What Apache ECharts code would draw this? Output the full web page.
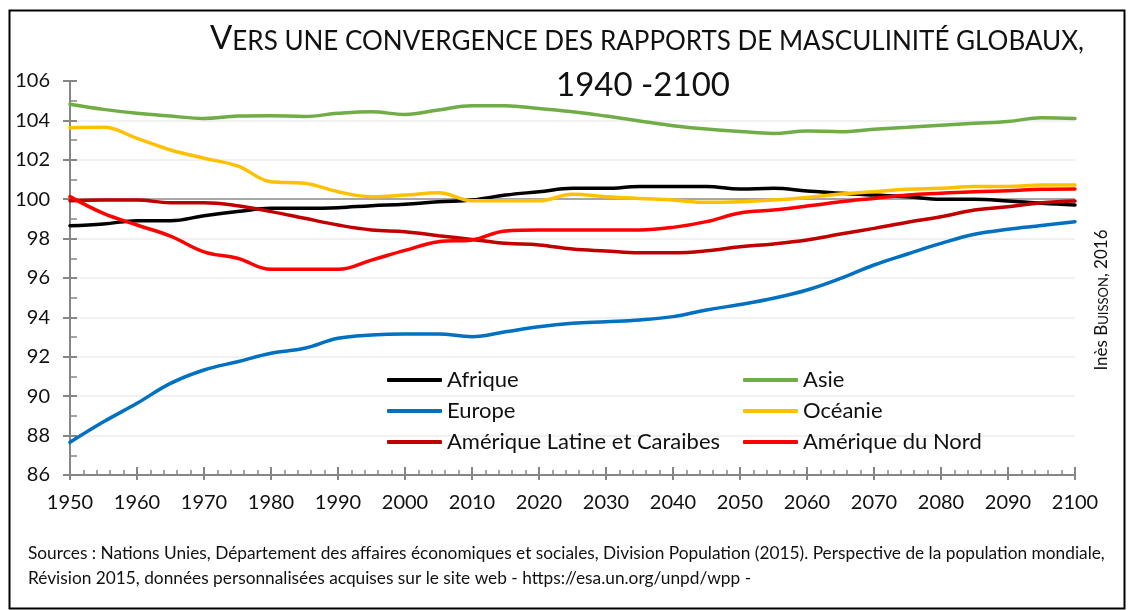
<!DOCTYPE html>
<html lang="fr">
<head>
<meta charset="utf-8">
<script src="https://cdn.jsdelivr.net/npm/echarts@6/dist/echarts.min.js"></script>
</head>
<body style="margin:0; background:#fff">
<div id="container" style="width:1130px; height:610px"></div>
<script>
// rapports de masculinité (hommes pour 100 femmes), tous les 5 ans
var years = [1950, 1955, 1960, 1965, 1970, 1975, 1980, 1985, 1990, 1995, 2000, 2005, 2010, 2015, 2020,
  2025, 2030, 2035, 2040, 2045, 2050, 2055, 2060, 2065, 2070, 2075, 2080, 2085, 2090, 2095, 2100];
var afrique = [98.65, 98.74, 98.91, 98.91, 99.16, 99.37, 99.54, 99.54, 99.57, 99.67, 99.74, 99.87, 99.96, 100.21, 100.38,
  100.55, 100.55, 100.64, 100.64, 100.64, 100.52, 100.55, 100.42, 100.3, 100.21, 100.13, 100.0, 100.0, 99.91, 99.79, 99.71];
var asie = [104.82, 104.56, 104.36, 104.22, 104.1, 104.22, 104.24, 104.2, 104.36, 104.44, 104.3, 104.53, 104.75, 104.75, 104.6,
  104.44, 104.22, 103.97, 103.73, 103.56, 103.44, 103.34, 103.46, 103.43, 103.55, 103.65, 103.75, 103.85, 103.94, 104.14, 104.1];
var europe = [87.66, 88.7, 89.64, 90.65, 91.33, 91.75, 92.18, 92.43, 92.94, 93.11, 93.16, 93.16, 93.02, 93.27, 93.53,
  93.7, 93.78, 93.87, 94.04, 94.38, 94.65, 94.97, 95.39, 95.98, 96.66, 97.22, 97.76, 98.22, 98.47, 98.66, 98.86];
var oceanie = [103.63, 103.65, 103.09, 102.5, 102.08, 101.69, 100.89, 100.81, 100.38, 100.13, 100.21, 100.33, 99.92, 99.92, 99.92,
  100.25, 100.13, 100.04, 99.96, 99.84, 99.87, 99.96, 100.09, 100.26, 100.38, 100.5, 100.55, 100.64, 100.64, 100.72, 100.72];
var ameriqueLatine = [99.92, 99.96, 99.96, 99.82, 99.82, 99.67, 99.37, 99.03, 98.69, 98.44, 98.35, 98.15, 97.96, 97.76, 97.68,
  97.47, 97.37, 97.28, 97.28, 97.38, 97.59, 97.73, 97.93, 98.23, 98.52, 98.83, 99.11, 99.45, 99.62, 99.82, 99.91];
var ameriqueNord = [100.13, 99.28, 98.69, 98.13, 97.33, 97.0, 96.44, 96.45, 96.44, 96.91, 97.4, 97.84, 97.93, 98.39, 98.44,
  98.44, 98.44, 98.44, 98.57, 98.86, 99.3, 99.45, 99.65, 99.87, 100.04, 100.21, 100.3, 100.38, 100.43, 100.5, 100.52];

var names = ['Afrique', 'Asie', 'Europe', 'Océanie', 'Amérique Latine et Caraibes', 'Amérique du Nord'];
var values = [afrique, asie, europe, oceanie, ameriqueLatine, ameriqueNord];
var colors = ['#000000', '#70ad47', '#0070c0', '#ffc000', '#c00000', '#ff0000'];

var FONT = 'Lato, "Open Sans", sans-serif';
var AXIS_GREY = '#868686';

var myChart = echarts.init(document.getElementById('container'), null, { renderer: 'canvas' });

var series = names.map(function (name, k) {
  var s = {
    name: name,
    type: 'line',
    smooth: 0.4,
    symbol: 'none',
    xAxisIndex: 0,
    yAxisIndex: 0,
    lineStyle: { width: 3.5, color: colors[k], cap: 'round' },
    itemStyle: { color: colors[k] },
    data: years.map(function (y, i) { return [y, values[k][i]]; })
  };
  if (k === 0) {
    // ligne grise à 100
    s.markLine = {
      silent: true, symbol: 'none', label: { show: false },
      lineStyle: { color: '#a6a6a6', width: 2, type: 'solid' },
      data: [{ yAxis: 100 }],
      z: 1
    };
  }
  return s;
});

var legendBase = {
  orient: 'vertical',
  icon: 'roundRect',
  padding: 0,
  itemWidth: 55,
  itemHeight: 4,
  itemGap: 7,
  textStyle: { fontFamily: FONT, fontSize: 22, color: '#111', lineHeight: 24 }
};

var option = {
  animation: false,
  backgroundColor: '#fff',
  grid: { left: 70, right: 55, top: 81, bottom: 135 },
  legend: [
    Object.assign({}, legendBase, { left: 387, top: 368, data: [names[0], names[2], names[4]] }),
    Object.assign({}, legendBase, { left: 743, top: 368, data: [names[1], names[3], names[5]] })
  ],
  xAxis: [
    {
      type: 'value', min: 1950, max: 2100, interval: 10, position: 'bottom',
      axisLine: { lineStyle: { color: AXIS_GREY, width: 2 } },
      axisTick: { inside: false, length: 5, lineStyle: { color: AXIS_GREY, width: 2 } },
      axisLabel: { fontFamily: FONT, fontSize: 20, color: '#111', margin: 18, formatter: function (v) { return String(v); } },
      splitLine: { show: false }
    },
    {
      type: 'value', min: 1950, max: 2100, interval: 10, position: 'bottom',
      axisLine: { show: false },
      axisTick: { inside: true, length: 8, lineStyle: { color: AXIS_GREY, width: 2 } },
      minorTick: { show: true, splitNumber: 5, length: 5, lineStyle: { color: AXIS_GREY, width: 1.5 } },
      axisLabel: { show: false },
      splitLine: { show: false }
    }
  ],
  yAxis: [
    {
      type: 'value', min: 86, max: 106, interval: 2, position: 'left',
      axisLine: { show: true, lineStyle: { color: AXIS_GREY, width: 2 } },
      axisTick: { show: true, inside: false, length: 7, lineStyle: { color: AXIS_GREY, width: 2 } },
      axisLabel: { fontFamily: FONT, fontSize: 20, color: '#111', margin: 20 },
      splitLine: { show: true, showMaxLine: false, lineStyle: { color: '#ececec', width: 1.5 } }
    },
    {
      type: 'value', min: 86, max: 106, interval: 2, position: 'left',
      axisLine: { show: false },
      axisTick: { show: true, inside: true, length: 7, lineStyle: { color: AXIS_GREY, width: 2 } },
      minorTick: { show: true, splitNumber: 2, length: 7, lineStyle: { color: AXIS_GREY, width: 1.5 } },
      axisLabel: { show: false },
      splitLine: { show: false }
    }
  ],
  graphic: [
    {
      type: 'rect', left: 7, top: 8, z: -1,
      shape: { width: 1115, height: 598 },
      style: { fill: 'none', stroke: '#000', lineWidth: 2 }
    },
    {
      type: 'text', x: 647, y: 55,
      style: {
        text: '{b|V}{s|ERS UNE CONVERGENCE DES RAPPORTS DE MASCULINITÉ GLOBAUX,}',
        align: 'center', verticalAlign: 'bottom',
        rich: {
          b: { fontFamily: FONT, fontSize: 33, fill: '#111', verticalAlign: 'bottom', lineHeight: 36 },
          s: { fontFamily: FONT, fontSize: 26, fill: '#111', verticalAlign: 'bottom', lineHeight: 36 }
        }
      }
    },
    {
      type: 'text', x: 643, y: 85,
      style: { text: '1940 -2100', fontFamily: FONT, fontSize: 33, fill: '#111', align: 'center', verticalAlign: 'middle' }
    },
    {
      type: 'text', x: 1100, y: 300, rotation: Math.PI / 2,
      style: {
        text: '{n|Inès }{b|B}{s|UISSON}{n|, 2016}',
        align: 'center', verticalAlign: 'middle',
        rich: {
          n: { fontFamily: FONT, fontSize: 17, fill: '#111', verticalAlign: 'bottom', lineHeight: 20 },
          b: { fontFamily: FONT, fontSize: 17, fill: '#111', verticalAlign: 'bottom', lineHeight: 20 },
          s: { fontFamily: FONT, fontSize: 13, fill: '#111', verticalAlign: 'bottom', lineHeight: 20 }
        }
      }
    },
    {
      type: 'text', left: 28, top: 541,
      style: {
        text: 'Sources : Nations Unies, Département des affaires économiques et sociales, Division Population (2015). Perspective de la population mondiale,\nRévision 2015, données personnalisées acquises sur le site web - https://esa.un.org/unpd/wpp -',
        fontFamily: FONT, fontSize: 17.3, lineHeight: 25, fill: '#111'
      }
    }
  ],
  series: series
};

myChart.setOption(option);
window.addEventListener('resize', myChart.resize);
</script>
</body>
</html>
